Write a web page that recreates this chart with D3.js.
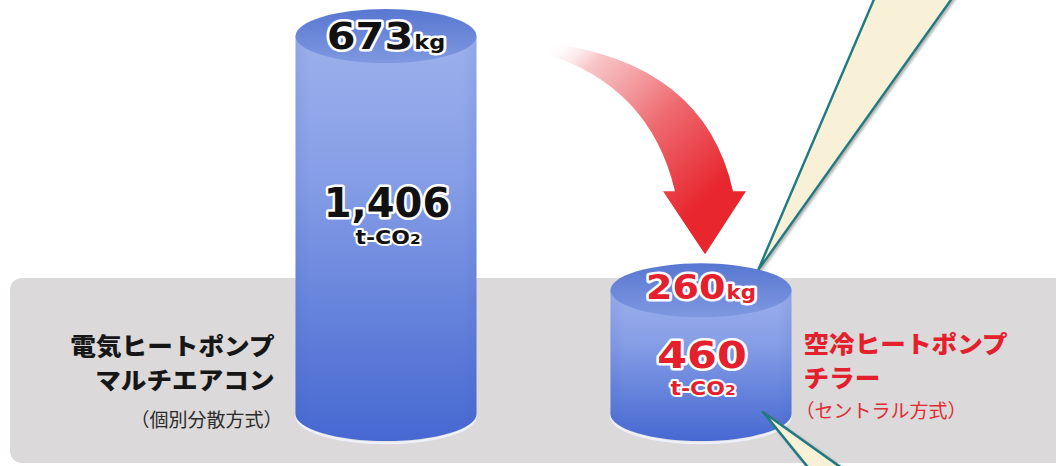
<!DOCTYPE html>
<html>
<head>
<meta charset="utf-8">
<script src="https://cdn.jsdelivr.net/npm/d3@7"></script>
<style>
  html, body { margin: 0; padding: 0; background: #ffffff; overflow: hidden; }
  svg { display: block; }
</style>
</head>
<body>
<svg id="chart" width="1056" height="466"></svg>
<script>
// ---- data -------------------------------------------------------------
const categories = ["マルチエアコン", "チラー"];
const nameLines = [["電気ヒートポンプ", "マルチエアコン"], ["空冷ヒートポンプ", "チラー"]];
const systemLabels = ["（個別分散方式）", "（セントラル方式）"];
const co2Tons = [1406, 460];          // t-CO2
const refrigerantKg = [673, 260];     // kg
const co2UnitMain = "t-CO";
const co2UnitSub = "2";
const kgUnit = "kg";

// ---- setup ------------------------------------------------------------
const W = 1056, H = 466;
const svg = d3.select("#chart");
const defs = svg.append("defs");

const x = d3.scalePoint().domain(categories).range([386, 701]);
const y = d3.scaleLinear().domain([0, d3.max(co2Tons)]).range([414, 36]);
const rx = 90.5, ry = 27;

const accent = ["#111111", "#e3202c"];
const nameColor = ["#161616", "#e3202c"];
const subColor = ["#2b2b2b", "#e02a34"];

// gradients
const bodyGrad = defs.append("linearGradient").attr("id", "bodyGrad")
  .attr("x1", 0).attr("y1", 0).attr("x2", 0).attr("y2", 1);
bodyGrad.append("stop").attr("offset", 0).attr("stop-color", "#9cb0ec");
bodyGrad.append("stop").attr("offset", 0.35).attr("stop-color", "#869ee6");
bodyGrad.append("stop").attr("offset", 1).attr("stop-color", "#4668d1");

const sideGrad = defs.append("linearGradient").attr("id", "sideGrad")
  .attr("x1", 0).attr("y1", 0).attr("x2", 1).attr("y2", 0);
sideGrad.append("stop").attr("offset", 0).attr("stop-color", "#2f4fb8").attr("stop-opacity", 0.1);
sideGrad.append("stop").attr("offset", 0.08).attr("stop-color", "#2f4fb8").attr("stop-opacity", 0);
sideGrad.append("stop").attr("offset", 0.92).attr("stop-color", "#2f4fb8").attr("stop-opacity", 0);
sideGrad.append("stop").attr("offset", 1).attr("stop-color", "#2f4fb8").attr("stop-opacity", 0.1);

const topGrad = defs.append("linearGradient").attr("id", "topGrad")
  .attr("x1", 0).attr("y1", 0).attr("x2", 0).attr("y2", 1);
topGrad.append("stop").attr("offset", 0).attr("stop-color", "#5877d1");
topGrad.append("stop").attr("offset", 1).attr("stop-color", "#7f98e0");

const arrowGrad = defs.append("linearGradient").attr("id", "arrowGrad")
  .attr("gradientUnits", "userSpaceOnUse")
  .attr("x1", 548).attr("y1", 45).attr("x2", 705).attr("y2", 200);
arrowGrad.append("stop").attr("offset", 0).attr("stop-color", "#ffffff").attr("stop-opacity", 0);
arrowGrad.append("stop").attr("offset", 0.2).attr("stop-color", "#f6bcbf").attr("stop-opacity", 0.85);
arrowGrad.append("stop").attr("offset", 0.6).attr("stop-color", "#ee6a70");
arrowGrad.append("stop").attr("offset", 1).attr("stop-color", "#e8262e");

const shadow = defs.append("filter").attr("id", "beamShadow")
  .attr("x", -0.2).attr("y", -0.2).attr("width", 1.4).attr("height", 1.4);
shadow.append("feDropShadow").attr("dx", 2).attr("dy", 1.5)
  .attr("stdDeviation", 1.2).attr("flood-color", "#777").attr("flood-opacity", 0.55);

// ---- grey panel ---------------------------------------------------------
svg.append("rect")
  .attr("x", 10).attr("y", 278).attr("width", W + 20).attr("height", 185)
  .attr("rx", 12).attr("fill", "#dbd9d9");

// ---- upper callout beam (behind the cylinders) -----------------------------
const cxR = x(categories[1]);
const topR = y(co2Tons[1]);
const beamDx = 57;
const beamApex = [cxR + beamDx, topR - ry * Math.sqrt(1 - (beamDx / rx) ** 2) + 1];
const beamTop = svg.append("g").attr("filter", "url(#beamShadow)");
beamTop.append("path")
  .attr("d", `M${beamApex[0]},${beamApex[1]} L${beamApex[0] + 120},${-10} L${beamApex[0] + 200},${-10} Z`)
  .attr("fill", "#f9f0d8").attr("stroke", "none");
beamTop.append("path")
  .attr("d", `M${beamApex[0] + 120},${-10} L${beamApex[0]},${beamApex[1]} L${beamApex[0] + 200},${-10}`)
  .attr("fill", "none").attr("stroke", "#1f7b82").attr("stroke-width", 2.4)
  .attr("stroke-linejoin", "round");

// ---- cylinders ----------------------------------------------------------
const cyl = svg.selectAll("g.cyl")
  .data(categories.map((c, i) => ({ c, i, v: co2Tons[i], kg: refrigerantKg[i] })))
  .join("g").attr("class", "cyl");

function bodyPath(d) {
  const cx = x(d.c), t = y(d.v), b = y(0);
  return `M${cx - rx},${t} L${cx - rx},${b} A${rx},${ry} 0 0 0 ${cx + rx},${b} L${cx + rx},${t} Z`;
}

cyl.append("path")
  .attr("d", d => {
    const cx = x(d.c), b = y(0);
    return `M${cx - rx + 1},${b + 2} A${rx - 1},${ry} 0 0 0 ${cx + rx - 1},${b + 2}`;
  })
  .attr("fill", "none").attr("stroke", "#eef1fa").attr("stroke-width", 2.5);
cyl.append("path").attr("d", bodyPath).attr("fill", "url(#bodyGrad)");
cyl.append("path").attr("d", bodyPath).attr("fill", "url(#sideGrad)");
cyl.append("ellipse")
  .attr("cx", d => x(d.c)).attr("cy", d => y(d.v))
  .attr("rx", rx).attr("ry", ry)
  .attr("fill", "url(#topGrad)");

// value labels
const numFont = "'DejaVu Sans', Verdana, sans-serif";
const strokeText = sel => sel
  .attr("paint-order", "stroke")
  .attr("stroke", "#ffffff").attr("stroke-width", 5)
  .attr("stroke-linejoin", "round");

// refrigerant amount on the lid
cyl.append("g")
  .attr("transform", d => `translate(${x(d.c)},${y(d.v) + (d.i === 0 ? 13 : 9)}) scale(1.12,1)`)
  .append("text")
  .attr("text-anchor", "middle")
  .attr("font-family", numFont).attr("font-weight", "bold")
  .attr("fill", d => accent[d.i])
  .call(strokeText)
  .each(function (d) {
    const t = d3.select(this);
    t.append("tspan").attr("font-size", d.i === 0 ? 37 : 34).text(d3.format(",")(d.kg));
    t.append("tspan").attr("font-size", d.i === 0 ? 20 : 19).attr("dx", 1).text(kgUnit);
  });

// CO2 equivalent in the body
const valueBase = d => y(d.v) + Math.max((y(0) - y(d.v)) * 0.48, 78);
cyl.append("g")
  .attr("transform", d => `translate(${x(d.c) + 1},${valueBase(d)}) scale(${d.v >= 1000 ? 1.0 : 1.13},1)`)
  .append("text")
  .attr("text-anchor", "middle")
  .attr("font-family", numFont).attr("font-weight", "bold")
  .attr("font-size", d => d.v >= 1000 ? 40 : 38)
  .attr("fill", d => accent[d.i])
  .call(strokeText)
  .text(d => d3.format(",")(d.v));

cyl.append("g")
  .attr("transform", d => `translate(${x(d.c) + 2},${valueBase(d) + 27}) scale(1.1,1)`)
  .append("text")
  .attr("text-anchor", "middle")
  .attr("font-family", numFont).attr("font-weight", "bold")
  .attr("fill", d => accent[d.i])
  .call(strokeText)
  .attr("stroke-width", 4)
  .each(function () {
    const t = d3.select(this);
    t.append("tspan").attr("font-size", 20).text(co2UnitMain);
    t.append("tspan").attr("font-size", 14).text(co2UnitSub);
  });

// ---- lower callout beam (over the cylinder) ---------------------------------
const beamLow = [cxR + 62, y(0) - 2];
const beamBot = svg.append("g").attr("filter", "url(#beamShadow)");
beamBot.append("path")
  .attr("d", `M${beamLow[0]},${beamLow[1]} L${beamLow[0] + 52},${H + 10} L${beamLow[0] + 90},${H + 10} Z`)
  .attr("fill", "#f9f0d8");
beamBot.append("path")
  .attr("d", `M${beamLow[0] + 52},${H + 10} L${beamLow[0]},${beamLow[1]} L${beamLow[0] + 90},${H + 10}`)
  .attr("fill", "none").attr("stroke", "#1f7b82").attr("stroke-width", 2.6)
  .attr("stroke-linejoin", "round");

// ---- curved arrow --------------------------------------------------------
const tip = [cxR + 4, topR - ry - 9];
const arrowPath = d3.path();
arrowPath.moveTo(548, 43);
arrowPath.quadraticCurveTo(705, 63, tip[0] + 28, tip[1] - 63);
arrowPath.lineTo(tip[0] + 41, tip[1] - 63);
arrowPath.lineTo(tip[0], tip[1]);
arrowPath.lineTo(tip[0] - 42, tip[1] - 63);
arrowPath.lineTo(tip[0] - 30, tip[1] - 63);
arrowPath.quadraticCurveTo(650, 85, 543, 53);
arrowPath.closePath();
svg.append("path").attr("d", arrowPath.toString()).attr("fill", "url(#arrowGrad)");

// ---- category labels -------------------------------------------------------
const jpFont = "'Noto Sans CJK JP', 'Noto Sans', sans-serif";
const labelX = [x(categories[0]) - rx - 21, x(categories[1]) + rx + 12];
const anchors = ["end", "start"];
const nameBase = [355, 353];
const nameSize = 23.5, nameGap = 34, nameStretch = 1.09;

categories.forEach((c, i) => {
  const g = svg.append("g");
  nameLines[i].forEach((line, k) => {
    g.append("g")
      .attr("transform", `translate(${labelX[i]},${nameBase[i] + k * nameGap}) scale(${nameStretch},1)`)
      .append("text")
      .attr("x", 0).attr("y", 0)
      .attr("text-anchor", anchors[i])
      .attr("font-family", jpFont).attr("font-weight", 900)
      .attr("font-size", nameSize)
      .attr("fill", nameColor[i])
      .text(line);
  });
  g.append("text")
    .attr("x", labelX[i] + (i === 0 ? 8 : -8)).attr("y", nameBase[i] + (i === 0 ? 72 : 65))
    .attr("text-anchor", anchors[i])
    .attr("font-family", jpFont).attr("font-weight", 400)
    .attr("font-size", 19)
    .attr("fill", subColor[i])
    .text(systemLabels[i]);
});
</script>
</body>
</html>
